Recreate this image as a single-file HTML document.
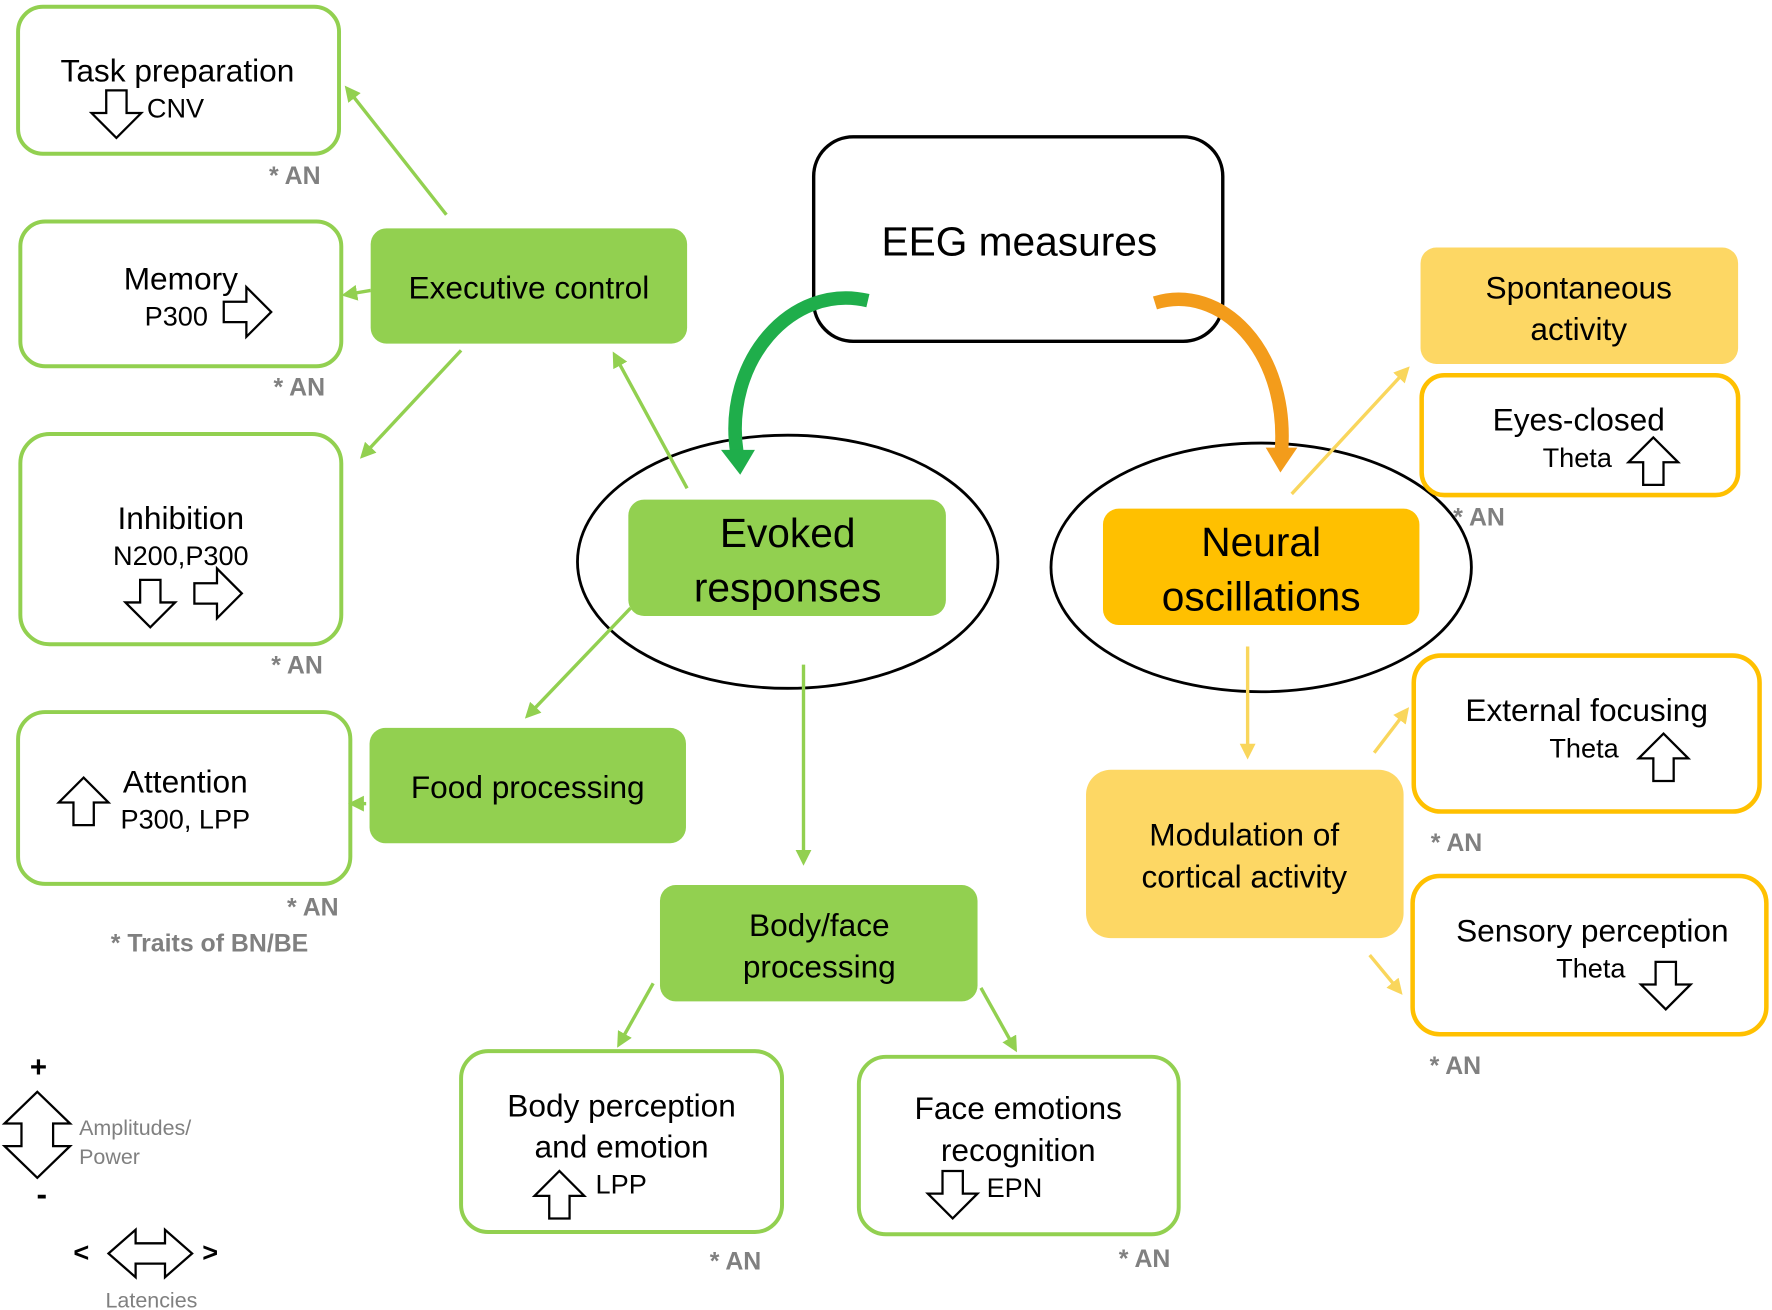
<!DOCTYPE html>
<html><head><meta charset="utf-8"><style>
html,body{margin:0;padding:0;background:#fff}
svg{display:block}
text{font-family:"Liberation Sans",sans-serif}
</style></head><body>
<svg width="1772" height="1310" viewBox="0 0 1568 1159" preserveAspectRatio="none" xmlns="http://www.w3.org/2000/svg">
<defs>
<marker id="ag2" markerWidth="14" markerHeight="14" refX="6" refY="7" orient="auto" markerUnits="userSpaceOnUse"><path d="M0,0 L14,7 L0,14 z" fill="#92d050"/></marker>
<marker id="ay2" markerWidth="14" markerHeight="14" refX="6" refY="7" orient="auto" markerUnits="userSpaceOnUse"><path d="M0,0 L14,7 L0,14 z" fill="#f9d65c"/></marker>
<path id="dn" d="M13,0 L31,0 L31,20 L44,20 L22,42 L0,20 L13,20 Z" fill="#fff" stroke="#000" stroke-width="2"/>
</defs>

<!-- ellipses -->
<ellipse cx="697" cy="497" rx="186" ry="112" fill="none" stroke="#000" stroke-width="2.5"/>
<ellipse cx="1116" cy="502" rx="186" ry="110" fill="none" stroke="#000" stroke-width="2.5"/>

<!-- boxes left -->
<g fill="#fff" stroke="#92d050" stroke-width="3.5">
<rect x="16" y="6" width="284" height="130" rx="22"/>
<rect x="18" y="196" width="284" height="128" rx="22"/>
<rect x="18" y="384" width="284" height="186" rx="26"/>
<rect x="16" y="630" width="294" height="152" rx="24"/>
<rect x="408" y="930" width="284" height="160" rx="24"/>
<rect x="760" y="935" width="283" height="157" rx="24"/>
</g>
<g fill="#92d050">
<rect x="328" y="202" width="280" height="102" rx="14"/>
<rect x="327" y="644" width="280" height="102" rx="14"/>
<rect x="556" y="442" width="281" height="103" rx="14"/>
<rect x="584" y="783" width="281" height="103" rx="14"/>
</g>
<rect x="720" y="121" width="362" height="181" rx="35" fill="#fff" stroke="#000" stroke-width="3"/>
<rect x="976" y="450" width="280" height="103" rx="14" fill="#ffc000"/>
<rect x="1257" y="219" width="281" height="103" rx="14" fill="#fdd764"/>
<rect x="961" y="681" width="281" height="149" rx="22" fill="#fdd764"/>
<g fill="#fff" stroke="#ffc000" stroke-width="4">
<rect x="1258" y="332" width="280" height="106" rx="20"/>
<rect x="1251" y="580" width="306" height="138" rx="24"/>
<rect x="1250" y="775" width="313" height="140" rx="24"/>
</g>

<!-- green connectors -->
<g stroke="#92d050" stroke-width="3" fill="none">
<line x1="395" y1="190" x2="310" y2="82" marker-end="url(#ag2)"/>
<line x1="328" y1="257" x2="310" y2="260" marker-end="url(#ag2)"/>
<line x1="408" y1="310" x2="324" y2="400" marker-end="url(#ag2)"/>
<line x1="608" y1="432" x2="546" y2="318" marker-end="url(#ag2)"/>
<line x1="558" y1="538" x2="470" y2="630" marker-end="url(#ag2)"/>
<line x1="324" y1="711" x2="316" y2="711" marker-end="url(#ag2)"/>
<line x1="711" y1="588" x2="711" y2="758" marker-end="url(#ag2)"/>
<line x1="578" y1="870" x2="550" y2="920" marker-end="url(#ag2)"/>
<line x1="868" y1="874" x2="896" y2="924" marker-end="url(#ag2)"/>
</g>
<g stroke="#f9d65c" stroke-width="3" fill="none">
<line x1="1143" y1="437" x2="1242" y2="330" marker-end="url(#ay2)"/>
<line x1="1104" y1="572" x2="1104" y2="664" marker-end="url(#ay2)"/>
<line x1="1216" y1="666" x2="1242" y2="632" marker-end="url(#ay2)"/>
<line x1="1212" y1="845" x2="1236" y2="874" marker-end="url(#ay2)"/>
</g>

<!-- curved arrows -->
<path d="M768,266 C700,250 640,320 652,400" fill="none" stroke="#1fae4b" stroke-width="12"/>
<path d="M638,398 L668,398 L655,420 Z" fill="#1fae4b"/>
<path d="M1022,268 C1080,250 1140,310 1134,398" fill="none" stroke="#f39c1b" stroke-width="12"/>
<path d="M1120,396 L1148,396 L1133,418 Z" fill="#f39c1b"/>

<!-- texts -->
<g fill="#000" text-anchor="middle" font-size="28">
<text x="157" y="72">Task preparation</text>
<text x="160" y="256">Memory</text>
<text x="160" y="468">Inhibition</text>
<text x="164" y="701">Attention</text>
<text x="468" y="264">Executive control</text>
<text x="467" y="706">Food processing</text>
<text x="725" y="828">Body/face</text>
<text x="725" y="865">processing</text>
<text x="550" y="988">Body perception</text>
<text x="550" y="1024">and emotion</text>
<text x="901" y="990">Face emotions</text>
<text x="901" y="1027">recognition</text>
<text x="1397" y="264">Spontaneous</text>
<text x="1397" y="301">activity</text>
<text x="1397" y="381">Eyes-closed</text>
<text x="1404" y="638">External focusing</text>
<text x="1409" y="833">Sensory perception</text>
<text x="1101" y="748">Modulation of</text>
<text x="1101" y="785">cortical activity</text>
<text x="902" y="226" font-size="36">EEG measures</text>
<text x="697" y="484" font-size="36">Evoked</text>
<text x="697" y="532" font-size="36">responses</text>
<text x="1116" y="492" font-size="36">Neural</text>
<text x="1116" y="540" font-size="36">oscillations</text>
</g>
<g fill="#000" font-size="24">
<text x="130" y="104">CNV</text>
<text x="128" y="288">P300</text>
<text x="160" y="500" text-anchor="middle">N200,P300</text>
<text x="164" y="733" text-anchor="middle">P300, LPP</text>
<text x="527" y="1056">LPP</text>
<text x="873" y="1059">EPN</text>
<text x="1365" y="413">Theta</text>
<text x="1371" y="670">Theta</text>
<text x="1377" y="865">Theta</text>
</g>

<!-- block arrows -->
<use href="#dn" x="81" y="80"/>
<use href="#dn" transform="translate(198,298) rotate(-90)"/>
<use href="#dn" x="111" y="513"/>
<use href="#dn" transform="translate(172,547) rotate(-90)"/>
<use href="#dn" transform="translate(96,730) rotate(180)"/>
<use href="#dn" transform="translate(517,1078) rotate(180)"/>
<use href="#dn" x="821" y="1036"/>
<use href="#dn" transform="translate(1485,429) rotate(180)"/>
<use href="#dn" transform="translate(1494,691) rotate(180)"/>
<use href="#dn" x="1452" y="851"/>

<!-- AN labels -->
<g fill="#808080" font-weight="bold" font-size="22">
<text x="238" y="163">* AN</text>
<text x="242" y="350">* AN</text>
<text x="240" y="596">* AN</text>
<text x="254" y="810">* AN</text>
<text x="98" y="842">* Traits of BN/BE</text>
<text x="628" y="1123">* AN</text>
<text x="990" y="1121">* AN</text>
<text x="1286" y="465">* AN</text>
<text x="1266" y="753">* AN</text>
<text x="1265" y="950">* AN</text>
</g>

<!-- legend -->
<text x="34" y="953" font-size="26" font-weight="bold" text-anchor="middle">+</text>
<path d="M33,966 L62,994 L47,994 L47,1014 L62,1014 L33,1042 L4,1014 L19,1014 L19,994 L4,994 Z" fill="#fff" stroke="#000" stroke-width="2"/>
<text x="70" y="1004" font-size="19" fill="#808080">Amplitudes/</text>
<text x="70" y="1030" font-size="19" fill="#808080">Power</text>
<text x="37" y="1066" font-size="28" font-weight="bold" text-anchor="middle">-</text>
<text x="72" y="1116" font-size="24" font-weight="bold" text-anchor="middle">&lt;</text>
<path d="M96,1109 L120,1088 L120,1100 L146,1100 L146,1088 L170,1109 L146,1130 L146,1118 L120,1118 L120,1130 Z" fill="#fff" stroke="#000" stroke-width="2"/>
<text x="186" y="1116" font-size="24" font-weight="bold" text-anchor="middle">&gt;</text>
<text x="134" y="1157" font-size="19" fill="#808080" text-anchor="middle">Latencies</text>
</svg>
</body></html>
